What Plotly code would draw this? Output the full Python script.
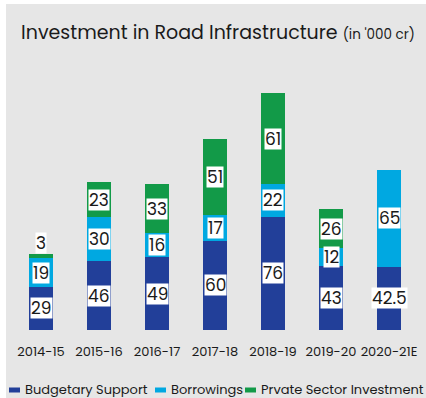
import plotly.graph_objects as go

# Road infrastructure investment, in '000 crore
years = ["2014-15", "2015-16", "2016-17", "2017-18", "2018-19", "2019-20", "2020-21E"]
budgetary = [29, 46, 49, 60, 76, 43, 42.5]
borrowings = [19, 30, 16, 17, 22, 12, 65]
private = [3, 23, 33, 51, 61, 26, 0]

series_names = ["Budgetary Support", "Borrowings", "Prvate Sector Investment"]
series_values = [budgetary, borrowings, private]
series_colors = ["#223f99", "#00a8e1", "#129a48"]

FONT = "Poppins, Inter, Open Sans, sans-serif"
W, H = 426, 398
ML, MR, MT, MB = 12, 8, 70, 68
plot_w = W - ML - MR
plot_h = H - MT - MB
y_max = plot_h / 1.49


def px_x(px):
    return (px - ML) / plot_w


def px_y(py):
    return (H - MB - py) / plot_h


fig = go.Figure()
for name, vals, color in zip(series_names, series_values, series_colors):
    fig.add_trace(go.Bar(
        x=years, y=vals, name=name, marker=dict(color=color, line=dict(width=0)),
        width=0.4, showlegend=False,
    ))

# value labels on white boxes, centred in each segment
annotations = []
base = [0] * len(years)
for vals in series_values:
    for i, v in enumerate(vals):
        if v:
            if v < 5:
                y, anchor = base[i] + v, "bottom"
            else:
                y, anchor = base[i] + v / 2, "middle"
            annotations.append(dict(
                x=years[i], y=y, text=f"{v:g}", showarrow=False, yanchor=anchor,
                xref="x", yref="y", bgcolor="white", borderpad=0, height=20,
                font=dict(family=FONT, size=17, color="#1a1a1a"),
            ))
        base[i] += v

# grey card with a thin white margin on the left and top
shapes = [dict(
    type="rect", xref="paper", yref="paper", layer="below",
    x0=px_x(6), x1=px_x(W), y0=px_y(H), y1=px_y(4),
    fillcolor="#e6e6e6", line=dict(width=0),
)]

# legend row along the bottom
legend_x = [9, 155, 245]
legend_y = 389
for lx, name, color in zip(legend_x, series_names, series_colors):
    shapes.append(dict(
        type="rect", xref="paper", yref="paper",
        x0=px_x(lx), x1=px_x(lx + 11), y0=px_y(legend_y + 3.5), y1=px_y(legend_y - 1.5),
        fillcolor=color, line=dict(width=0),
    ))
    annotations.append(dict(
        x=px_x(lx + 14), y=px_y(legend_y), xref="paper", yref="paper",
        text=name, showarrow=False, xanchor="left", yanchor="middle",
        font=dict(family=FONT, size=13, color="#1a1a1a"),
    ))

fig.update_layout(
    width=W, height=H,
    margin=dict(l=ML, r=MR, t=MT, b=MB),
    barmode="stack",
    paper_bgcolor="white",
    plot_bgcolor="rgba(0,0,0,0)",
    title=dict(
        text="Investment in Road Infrastructure <span style='font-size:13.5px'>(in '000 cr)</span>",
        x=218 / W, xanchor="center", xref="container",
        y=1 - 32 / H, yanchor="middle", yref="container",
        font=dict(family=FONT, size=19, color="#1a1a1a"),
    ),
    xaxis=dict(
        showgrid=False, showline=False, zeroline=False,
        ticks="outside", ticklen=9, tickcolor="rgba(0,0,0,0)",
        tickfont=dict(family=FONT, size=13, color="#1a1a1a"),
    ),
    yaxis=dict(range=[0, y_max], visible=False, showgrid=False),
    annotations=annotations,
    shapes=shapes,
    showlegend=False,
)

fig.write_html("out.html")
